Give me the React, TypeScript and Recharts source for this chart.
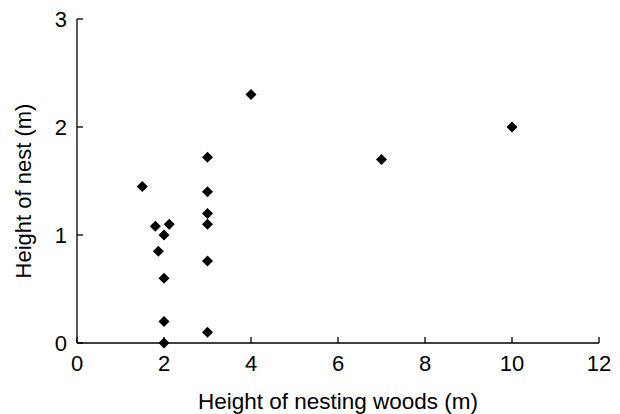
import React from 'react';
import { ScatterChart, Scatter, XAxis, YAxis } from 'recharts';

const woodHeights = [1.5, 1.8, 2.12, 2, 1.87, 2, 2, 2, 3, 3, 3, 3, 3, 3, 4, 7, 10];
const nestHeights = [1.45, 1.08, 1.1, 1.0, 0.85, 0.6, 0.2, 0.0, 1.72, 1.4, 1.2, 1.1, 0.76, 0.1, 2.3, 1.7, 2.0];
const xTicks = [0, 2, 4, 6, 8, 10, 12];
const yTicks = [0, 1, 2, 3];
const xLabel = 'Height of nesting woods (m)';
const yLabel = 'Height of nest (m)';

const data = woodHeights.map((x, i) => ({ x, y: nestHeights[i] }));

const FONT = '"Liberation Sans", Arial, sans-serif';
const TICK_FONT = 22;
const TICK_LEN = 6;

const Diamond = (props: any) => {
  const { cx, cy } = props;
  const r = 5.5;
  return (
    <path
      d={`M${cx},${cy - r}L${cx + r},${cy}L${cx},${cy + r}L${cx - r},${cy}Z`}
      fill="#000"
    />
  );
};

const XTick = (props: any) => {
  const { x, y, payload } = props;
  return (
    <g>
      <rect x={x - 0.65} y={y - TICK_LEN} width={1.3} height={TICK_LEN} fill="#000" />
      <text x={x} y={y + 28} textAnchor="middle" fontFamily={FONT} fontSize={TICK_FONT} fill="#000">
        {payload.value}
      </text>
    </g>
  );
};

const YTick = (props: any) => {
  const { x, y, payload } = props;
  return (
    <g>
      <rect x={x} y={y - 0.65} width={TICK_LEN} height={1.3} fill="#000" />
      <text x={x - 10} y={y + 8} textAnchor="end" fontFamily={FONT} fontSize={TICK_FONT} fill="#000">
        {payload.value}
      </text>
    </g>
  );
};

const XLabelContent = (props: any) => {
  const vb = props.viewBox;
  return (
    <text
      x={vb.x + vb.width / 2}
      y={vb.y + 66}
      textAnchor="middle"
      fontFamily={FONT}
      fontSize={22.5}
      fill="#000"
    >
      {xLabel}
    </text>
  );
};

const YLabelContent = (props: any) => {
  const vb = props.viewBox;
  const x = vb.x + 14;
  const y = vb.y + vb.height / 2 + 10;
  return (
    <text
      x={x}
      y={y}
      transform={`rotate(-90, ${x}, ${y})`}
      textAnchor="middle"
      fontFamily={FONT}
      fontSize={22}
      fill="#000"
    >
      {yLabel}
    </text>
  );
};

export default function App() {
  return (
    <div style={{ position: 'absolute', left: 0, top: 0, background: '#fff' }}>
      <ScatterChart
        width={620}
        height={414}
        margin={{ top: 19, right: 21, bottom: 41, left: 17 }}
      >
        <XAxis
          type="number"
          dataKey="x"
          domain={[0, 12]}
          ticks={xTicks}
          interval={0}
          height={30}
          axisLine={{ stroke: '#000', strokeWidth: 1.3 }}
          tickLine={false}
          tickSize={0}
          tickMargin={0}
          tick={<XTick />}
          label={<XLabelContent />}
        />
        <YAxis
          type="number"
          dataKey="y"
          domain={[0, 3]}
          ticks={yTicks}
          interval={0}
          width={60}
          axisLine={{ stroke: '#000', strokeWidth: 1.3 }}
          tickLine={false}
          tickSize={0}
          tickMargin={0}
          tick={<YTick />}
          label={<YLabelContent />}
        />
        <Scatter data={data} shape={<Diamond />} isAnimationActive={false} />
      </ScatterChart>
    </div>
  );
}
